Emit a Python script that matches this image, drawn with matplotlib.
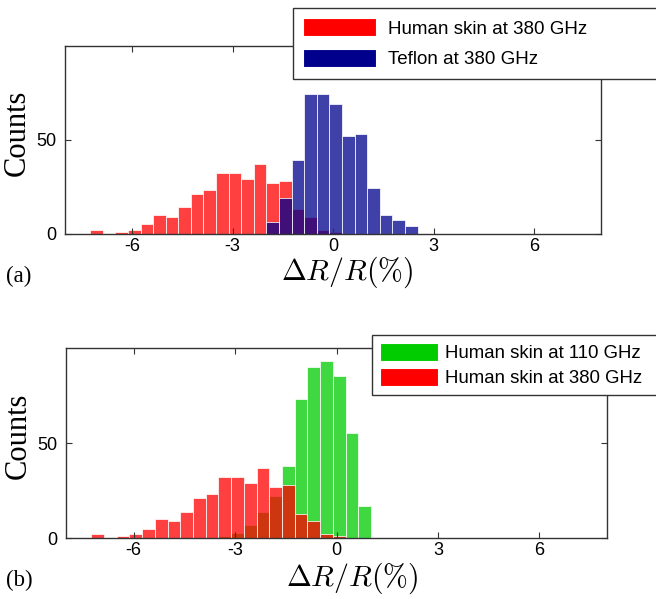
import matplotlib
matplotlib.use('Agg')
import matplotlib.pyplot as plt
from matplotlib.patches import Patch
import numpy as np

plt.rcParams['axes.unicode_minus'] = False
plt.rcParams['mathtext.fontset'] = 'cm'
plt.rcParams['font.family'] = 'Liberation Sans'

# histogram bins (shared by all three series)
bin_start = -7.25
bin_width = 0.376

# counts per bin
skin380 = [2, 0, 1, 2, 5, 10, 9, 14, 21, 23, 32, 32, 29, 37, 27, 28, 13, 9, 2, 1]
teflon380 = [0]*14 + [6, 19, 39, 74, 74, 69, 52, 53, 24, 10, 7, 4]
skin110 = [0]*10 + [1, 3, 7, 14, 22, 38, 73, 90, 93, 85, 55, 17]

xticks = [-6, -3, 0, 3, 6]
yticks = [0, 50]

RED = (1, 0, 0)
NAVY = (0, 0, 0.55)
GREEN = (0, 0.8, 0)
SPINE = '#333333'


def draw_hist(ax, counts, color):
    counts = np.array(counts)
    left = bin_start + bin_width*np.arange(len(counts))
    keep = counts > 0
    ax.bar(left[keep], counts[keep], width=bin_width, align='edge',
           color=color, alpha=0.75, edgecolor='white', linewidth=0.7)


def style_axes(ax, ylab_y, xlab_x, xlab_y):
    ax.set_xlim(-8, 8)
    ax.set_ylim(0, 100)
    ax.set_xticks(xticks)
    ax.set_xticklabels([str(t) for t in xticks])
    ax.set_yticks(yticks)
    ax.tick_params(direction='in', top=True, right=True, length=4,
                   width=0.8, color=SPINE, labelsize=13)
    ax.tick_params(axis='x', pad=3)
    ax.tick_params(axis='y', pad=6)
    for s in ax.spines.values():
        s.set_color(SPINE)
        s.set_linewidth(1.0)
    ax.set_ylabel('Counts', family='Liberation Serif', fontsize=22)
    ax.yaxis.set_label_coords(-0.062, ylab_y)
    ax.set_xlabel(r'$\Delta R/R(\%)$', fontsize=21.5)
    ax.xaxis.label.set_va('center')
    ax.xaxis.set_label_coords(xlab_x, xlab_y)


fig = plt.figure(figsize=(6.56, 5.99), dpi=100)

# (a) human skin vs teflon at 380 GHz
ax1 = fig.add_axes([65/656, 1-233.5/599, 536/656, 188/599])
draw_hist(ax1, skin380, RED)
draw_hist(ax1, teflon380, NAVY)
style_axes(ax1, 0.537, 0.527, -0.207)
h1 = [Patch(facecolor=RED, edgecolor='white', linewidth=0.8),
      Patch(facecolor=NAVY, edgecolor='white', linewidth=0.8)]
leg1 = fig.legend(h1, ['Human skin at 380 GHz', 'Teflon at 380 GHz'],
                  loc='upper left', bbox_to_anchor=(293/656, 1-8/599, 0.8, 0),
                  mode='expand', fontsize=13.5, handlelength=3.9, handleheight=1.08,
                  handletextpad=0.6, labelspacing=0.62, borderpad=0.55,
                  borderaxespad=0, fancybox=False, framealpha=1)
leg1.get_frame().set_edgecolor(SPINE)
leg1.get_frame().set_linewidth(1.0)

# (b) human skin at 110 GHz vs 380 GHz
ax2 = fig.add_axes([66/656, 1-538.3/599, 541/656, 190.6/599])
draw_hist(ax2, skin110, GREEN)
draw_hist(ax2, skin380, RED)
style_axes(ax2, 0.537, 0.529, -0.212)
h2 = [Patch(facecolor=GREEN, edgecolor='white', linewidth=0.8),
      Patch(facecolor=RED, edgecolor='white', linewidth=0.8)]
leg2 = fig.legend(h2, ['Human skin at 110 GHz', 'Human skin at 380 GHz'],
                  loc='upper left', bbox_to_anchor=(372/656, 1-335/599, 0.8, 0),
                  mode='expand', fontsize=13.4, handlelength=3.1, handleheight=1.11,
                  handletextpad=0.4, labelspacing=0.32, borderpad=0.42,
                  borderaxespad=0, fancybox=False, framealpha=1)
leg2.get_frame().set_edgecolor(SPINE)
leg2.get_frame().set_linewidth(1.0)

fig.text(6/656, 1-276/599, '(a)', family='Liberation Serif', fontsize=16.5,
         ha='left', va='center')
fig.text(6/656, 1-580/599, '(b)', family='Liberation Serif', fontsize=16.5,
         ha='left', va='center')

fig.savefig('out.png', dpi=100)
